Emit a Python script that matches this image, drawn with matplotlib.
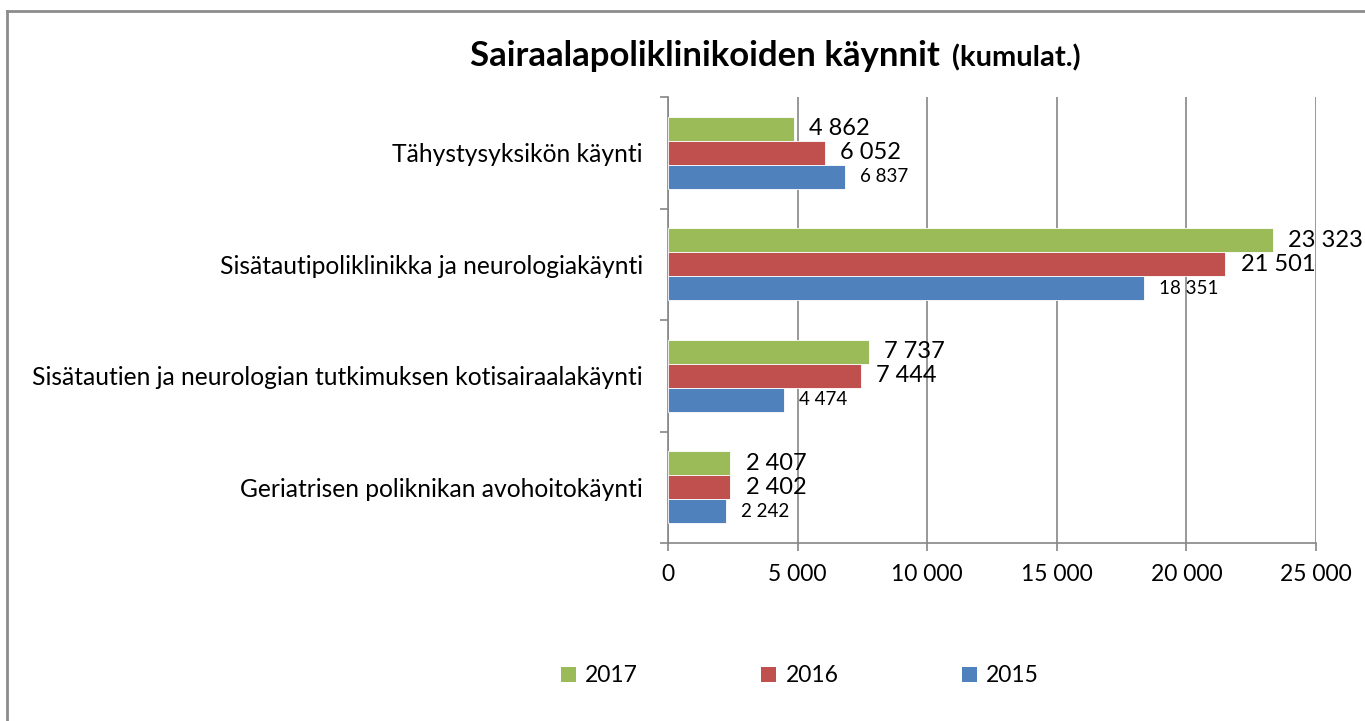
import matplotlib
matplotlib.use("Agg")
import matplotlib.pyplot as plt
from matplotlib.patches import Patch
from matplotlib.lines import Line2D
import numpy as np

plt.rcParams['font.family'] = ['Lato', 'DejaVu Sans']

# Visits per unit, listed top to bottom
categories = [
    "Tähystysyksikön käynti",
    "Sisätautipoliklinikka ja neurologiakäynti",
    "Sisätautien ja neurologian tutkimuksen kotisairaalakäynti",
    "Geriatrisen poliknikan avohoitokäynti",
]
visits_2017 = [4862, 23323, 7737, 2407]
visits_2016 = [6052, 21501, 7444, 2402]
visits_2015 = [6837, 18351, 4474, 2242]

years = ["2017", "2016", "2015"]
colors = ["#9BBB59", "#C0504D", "#4F81BD"]
x_ticks = [0, 5000, 10000, 15000, 20000, 25000]


def fmt(v):
    return f"{v:,}".replace(",", " ")


fig = plt.figure(figsize=(13.65, 7.21), dpi=100)
ax = fig.add_axes([668 / 1365, 1 - 543 / 721, 648 / 1365, 446 / 721])

pos = np.arange(len(categories))[::-1]
h = 0.215
series = [visits_2017, visits_2016, visits_2015]
offsets = [h, 0, -h]
label_sizes = [17, 17, 13.5]

for vals, off, col, fs in zip(series, offsets, colors, label_sizes):
    ax.barh(pos + off, vals, height=h, color=col, edgecolor="white", linewidth=0.6, zorder=3)
    for y, v in zip(pos + off, vals):
        ax.annotate(fmt(v), (v, y), xytext=(11, 0), textcoords="offset points",
                    va="center", ha="left", fontsize=fs, color="black", zorder=4)

ax.set_xlim(0, 25000)
ax.set_ylim(-0.5, 3.5)

ax.set_xticks(x_ticks)
ax.set_xticklabels([fmt(t) for t in x_ticks], fontsize=16.5)
ax.set_yticks(pos)
ax.set_yticklabels(categories, fontsize=17.7)
ax.set_yticks(np.arange(-0.5, 4.0, 1.0), minor=True)

ax.tick_params(axis="y", which="major", length=0, pad=18)
ax.tick_params(axis="y", which="minor", length=6, color="#868686", width=1.2)
ax.tick_params(axis="x", length=6, color="#868686", width=1.2, pad=9)

ax.grid(axis="x", color="#868686", linewidth=1.2, zorder=0)
for s in ["top", "right"]:
    ax.spines[s].set_visible(False)
for s in ["left", "bottom"]:
    ax.spines[s].set_color("#868686")
    ax.spines[s].set_linewidth(1.2)

# Title in two sizes
fig.text(940 / 1365, 1 - 66 / 721, "Sairaalapoliklinikoiden käynnit", ha="right",
         va="baseline", fontsize=25, fontweight="bold")
fig.text(952 / 1365, 1 - 66 / 721, "(kumulat.)", ha="left", va="baseline",
         fontsize=21, fontweight="bold")

handles = [Patch(facecolor=c, edgecolor="none") for c in colors]
fig.legend(handles, years, loc="center", bbox_to_anchor=(800 / 1365, 1 - 676 / 721),
           ncol=3, frameon=False, fontsize=16.5, handlelength=0.65, handleheight=0.65,
           handletextpad=0.4, columnspacing=5.4)

# Outer chart border
fig.add_artist(Line2D([7 / 1365, 7 / 1365], [0, 1 - 11 / 721], color="#8c8c8c", linewidth=2))
fig.add_artist(Line2D([7 / 1365, 1], [1 - 11 / 721, 1 - 11 / 721], color="#8c8c8c", linewidth=2))

fig.savefig("out.png", dpi=100, facecolor="white")
